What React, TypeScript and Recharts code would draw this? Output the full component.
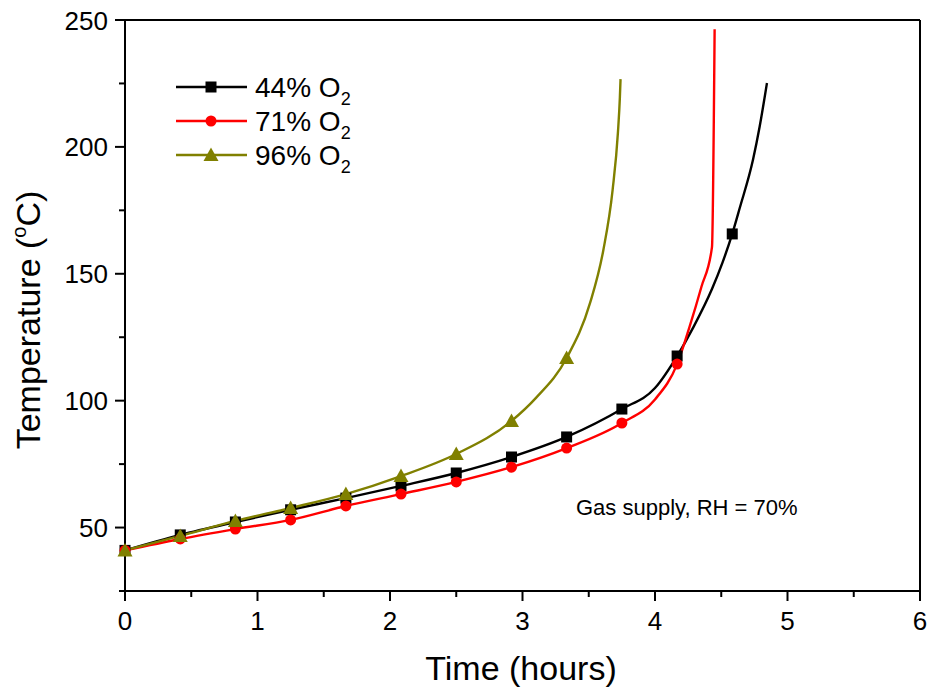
import { LineChart, Line, XAxis, YAxis, ReferenceLine } from 'recharts'

// sampling times of the plotted markers (hours)
const MARKER_TIMES = [0, 0.417, 0.833, 1.25, 1.667, 2.083, 2.5, 2.917, 3.333, 3.75, 4.167, 4.583]

// 44% O2 — black squares
const temp44Markers = [41, 47.1, 52.2, 57, 61.6, 66.4, 71.5, 77.8, 85.7, 96.7, 117.6, 165.7]
const time44Extra = [4.0, 4.29, 4.43, 4.51, 4.64, 4.74, 4.79, 4.845]
const temp44Extra = [105, 129, 144, 154.5, 176, 195, 208, 225.2]

// 71% O2 — red circles
const temp71Markers = [41, 45.5, 49.4, 53, 58.5, 63.2, 68, 73.8, 81.3, 91.2, 114.4]
const time71Extra = [4.0, 4.26, 4.35, 4.43, 4.45]
const temp71Extra = [100.5, 129, 144.8, 160.5, 246.4]

// 96% O2 — olive triangles
const temp96Markers = [41, 46.7, 52.6, 57.7, 63.2, 70.3, 79, 92, 116.8]
const time96Extra = [3.1, 3.51, 3.61, 3.68, 3.72, 3.735, 3.74]
const temp96Extra = [101, 138.5, 159.3, 183, 205.5, 219.6, 226.7]

const X_TICKS = [0, 0.5, 1, 1.5, 2, 2.5, 3, 3.5, 4, 4.5, 5, 5.5, 6]
const Y_TICKS = [25, 50, 75, 100, 125, 150, 175, 200, 225, 250]

const FONT = '"Liberation Sans", Arial, Helvetica, sans-serif'

type Pt = { t: number; T: number; m: boolean }

function buildSeries(marks: number[], extraT: number[], extraV: number[]): Pt[] {
  const pts: Pt[] = marks.map((v, i) => ({ t: MARKER_TIMES[i], T: v, m: true }))
  extraT.forEach((t, i) => pts.push({ t, T: extraV[i], m: false }))
  return pts.sort((a, b) => a.t - b.t)
}

const data44 = buildSeries(temp44Markers, time44Extra, temp44Extra)
const data71 = buildSeries(temp71Markers, time71Extra, temp71Extra)
const data96 = buildSeries(temp96Markers, time96Extra, temp96Extra)

function Marker({ shape, color, cx, cy }: { shape: string; color: string; cx: number; cy: number }) {
  if (shape === 'square') return <rect x={cx - 5.5} y={cy - 5.5} width={11} height={11} fill={color} />
  if (shape === 'circle') return <circle cx={cx} cy={cy} r={5.5} fill={color} />
  return <polygon points={`${cx},${cy - 7.5} ${cx + 7.5},${cy + 6} ${cx - 7.5},${cy + 6}`} fill={color} />
}

function makeDot(shape: string, color: string) {
  return (props: any) => {
    const { cx, cy, payload, index } = props
    if (!payload?.m || cx == null || cy == null) return <g key={`d${index}`} />
    return (
      <g key={`d${index}`}>
        <Marker shape={shape} color={color} cx={cx} cy={cy} />
      </g>
    )
  }
}

function XTick({ x, y, payload }: any) {
  const major = Number.isInteger(payload.value)
  return (
    <g>
      <line x1={x} y1={y} x2={x} y2={y + (major ? 10 : 6)} stroke="#000" strokeWidth={2} />
      {major && (
        <text x={x} y={y + 39} textAnchor="middle" fontSize={26} fontFamily={FONT} fill="#000">
          {payload.value}
        </text>
      )}
    </g>
  )
}

function YTick({ x, y, payload }: any) {
  const major = payload.value % 50 === 0
  return (
    <g>
      <line x1={x - (major ? 10 : 6)} y1={y} x2={x} y2={y} stroke="#000" strokeWidth={2} />
      {major && (
        <text x={x - 17} y={y + 9.5} textAnchor="end" fontSize={26} fontFamily={FONT} fill="#000">
          {payload.value}
        </text>
      )}
    </g>
  )
}

const legendItems = [
  { label: '44', color: '#000000', shape: 'square' },
  { label: '71', color: '#ff0000', shape: 'circle' },
  { label: '96', color: '#808000', shape: 'triangle' },
]

export default function App() {
  return (
    <div style={{ position: 'relative', width: 930, height: 692 }}>
      <style>{'body{margin:0;overflow:hidden}'}</style>
      <LineChart width={930} height={692} margin={{ top: 20, right: 10, left: 0, bottom: 41 }}>
        <XAxis
          type="number"
          dataKey="t"
          domain={[0, 6]}
          ticks={X_TICKS}
          interval={0}
          height={60}
          tickSize={0}
          tickMargin={0}
          tickLine={false}
          axisLine={{ stroke: '#000', strokeWidth: 2 }}
          tick={<XTick />}
        />
        <YAxis
          type="number"
          domain={[25, 250]}
          ticks={Y_TICKS}
          interval={0}
          width={125}
          tickSize={0}
          tickMargin={0}
          tickLine={false}
          axisLine={{ stroke: '#000', strokeWidth: 2 }}
          tick={<YTick />}
          allowDataOverflow
        />
        <ReferenceLine y={250} stroke="#000" strokeWidth={2} />
        <ReferenceLine x={6} stroke="#000" strokeWidth={2} />
        <Line
          data={data44}
          dataKey="T"
          type="monotone"
          stroke="#000000"
          strokeWidth={2.4}
          dot={makeDot('square', '#000000')}
          activeDot={false}
          isAnimationActive={false}
        />
        <Line
          data={data71}
          dataKey="T"
          type="monotone"
          stroke="#ff0000"
          strokeWidth={2.4}
          dot={makeDot('circle', '#ff0000')}
          activeDot={false}
          isAnimationActive={false}
        />
        <Line
          data={data96}
          dataKey="T"
          type="monotone"
          stroke="#808000"
          strokeWidth={2.4}
          dot={makeDot('triangle', '#808000')}
          activeDot={false}
          isAnimationActive={false}
        />
      </LineChart>

      {/* titles, legend and note */}
      <svg
        width={930}
        height={692}
        style={{ position: 'absolute', left: 0, top: 0, pointerEvents: 'none' }}
        fontFamily={FONT}
      >
        {legendItems.map((it, i) => {
          const cy = 87 + i * 34
          return (
            <g key={it.label}>
              <line x1={176} y1={cy} x2={247} y2={cy} stroke={it.color} strokeWidth={2.4} />
              <Marker shape={it.shape} color={it.color} cx={211} cy={cy} />
              <text x={255} y={cy + 10} fontSize={28} fill="#000">
                {it.label}% O
                <tspan fontSize={18} dy={8}>2</tspan>
              </text>
            </g>
          )
        })}
        <text x={576} y={515} fontSize={22} fill="#000">Gas supply, RH = 70%</text>
        <text x={521} y={680} fontSize={34} textAnchor="middle" fill="#000">Time (hours)</text>
        <text transform="translate(40,320) rotate(-90)" fontSize={34} textAnchor="middle" fill="#000">
          Temperature (
          <tspan fontSize={20} dy={-14}>o</tspan>
          <tspan dy={14}>C)</tspan>
        </text>
      </svg>
    </div>
  )
}
